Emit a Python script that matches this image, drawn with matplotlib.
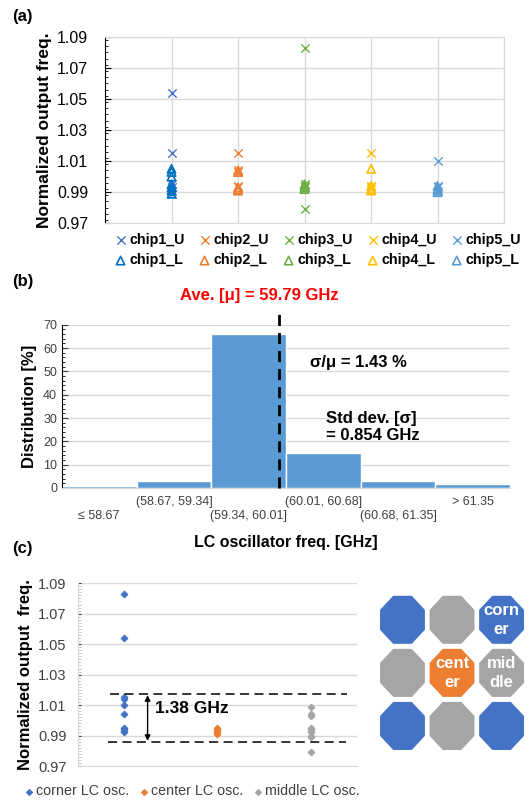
import numpy as np
import matplotlib
matplotlib.use("Agg")
import matplotlib.pyplot as plt
from matplotlib.patches import RegularPolygon
from matplotlib.ticker import MultipleLocator

plt.rcParams['font.family'] = ['Liberation Sans', 'DejaVu Sans']

# ---- panel (a) data ----
chips = ["chip1", "chip2", "chip3", "chip4", "chip5"]
chip_colors = ["#4472C4", "#ED7D31", "#70AD47", "#FFC000", "#5B9BD5"]
chip_colors_L = ["#0070C0", "#ED7D31", "#70AD47", "#FFC000", "#5B9BD5"]
upper_vals = [
    [1.054, 1.015, 0.995, 0.993, 0.991, 0.989],
    [1.015, 1.004, 1.003, 0.994, 0.993],
    [1.083, 0.995, 0.994, 0.993, 0.979],
    [1.015, 0.994, 0.993, 0.992],
    [1.010, 0.994, 0.993, 0.991],
]
lower_vals = [
    [1.005, 1.003, 1.000, 0.995, 0.993, 0.991, 0.989],
    [1.004, 1.003, 0.993, 0.992, 0.991],
    [0.995, 0.994, 0.993, 0.992],
    [1.005, 0.994, 0.992, 0.991],
    [0.994, 0.992, 0.991, 0.990],
]

# ---- panel (b) data ----
bins = ["\u2264 58.67", "(58.67, 59.34]", "(59.34, 60.01]",
        "(60.01, 60.68]", "(60.68, 61.35]", "> 61.35"]
dist = [0.8, 2.8, 66, 15, 2.8, 1.8]
mean_pos = 2.41  # bar-index position of the 59.79 GHz mean line

# ---- panel (c) data ----
groups = ["corner LC osc.", "center LC osc.", "middle LC osc."]
group_colors = ["#4472C4", "#ED7D31", "#A5A5A5"]
group_vals = [
    [1.083, 1.054, 1.015, 1.014, 1.010, 1.004, 0.995, 0.994, 0.993, 0.992],
    [0.995, 0.994, 0.993, 0.992, 0.991],
    [1.009, 1.004, 1.003, 0.995, 0.994, 0.993, 0.992, 0.990, 0.989, 0.979],
]
band_top, band_bot = 1.017, 0.986
grid_layout = [["#4472C4", "#A5A5A5", "#4472C4"],
               ["#A5A5A5", "#ED7D31", "#A5A5A5"],
               ["#4472C4", "#A5A5A5", "#4472C4"]]
grid_text = [["", "", "corn\ner"], ["", "cent\ner", "mid\ndle"], ["", "", ""]]

fig = plt.figure(figsize=(5.29, 8), dpi=100)

# ================= (a) =================
ax1 = fig.add_axes([0.1985, 0.721, 0.7545, 0.233])
handles = []
for i, c in enumerate(chips):
    hu = ax1.scatter([i + 1] * len(upper_vals[i]), upper_vals[i], marker="x",
                     color=chip_colors[i], s=36, linewidths=1.0, zorder=3)
    hl = ax1.scatter([i + 1] * len(lower_vals[i]), lower_vals[i], marker="^",
                     facecolors="none", edgecolors=chip_colors_L[i], s=36,
                     linewidths=1.2, zorder=3)
    handles += [(hu, c + "_U"), (hl, c + "_L")]
ax1.set_xlim(0, 6)
ax1.set_ylim(0.97, 1.09)
ax1.set_yticks(np.arange(0.97, 1.0901, 0.02))
ax1.yaxis.set_minor_locator(MultipleLocator(0.004))
ax1.set_xticks(range(1, 7))
ax1.tick_params(axis="x", length=0, labelbottom=False)
ax1.tick_params(axis="y", labelsize=11.5, length=4, direction="in", pad=12)
ax1.tick_params(axis="y", which="minor", length=2, direction="in")
ax1.grid(True, color="#D9D9D9", linewidth=1)
ax1.set_axisbelow(True)
for s in ["top", "right", "bottom"]:
    ax1.spines[s].set_color("#D9D9D9")
ax1.spines["left"].set_color("black")
ax1.set_ylabel("Normalized output freq.", fontsize=12.5, fontweight="bold", labelpad=4)
fig.legend([h for h, _ in handles], [l for _, l in handles], ncol=5,
           loc="upper left", bbox_to_anchor=(0.19, 0.725), frameon=False,
           prop={"weight": "bold", "size": 10.3}, handletextpad=0.1,
           columnspacing=0.9, handlelength=1.0, labelspacing=0.45)
fig.text(0.022, 0.98, "(a)", fontsize=12, fontweight="bold", va="center")

# ================= (b) =================
ax2 = fig.add_axes([0.117, 0.39, 0.847, 0.204])
x = np.arange(len(bins))
ax2.bar(x, dist, width=1.0, color="#5B9BD5", edgecolor="white", linewidth=1, zorder=2)
ax2.set_xlim(-0.5, 5.5)
ax2.set_ylim(0, 70)
ax2.yaxis.set_major_locator(MultipleLocator(10))
ax2.yaxis.set_minor_locator(MultipleLocator(2))
ax2.tick_params(axis="y", labelsize=9, length=4, direction="in", colors="#404040")
ax2.tick_params(axis="y", which="minor", length=2, direction="in")
ax2.set_xticks(x)
ax2.set_xticklabels(bins)
for i, t in enumerate(ax2.get_xticklabels()):
    t.set_y(-0.085 if i % 2 == 0 else 0.0)
ax2.tick_params(axis="x", length=0, labelsize=9, labelcolor="#404040", pad=6)
ax2.grid(True, axis="y", color="#D9D9D9", linewidth=1)
ax2.set_axisbelow(True)
for s in ["top", "right"]:
    ax2.spines[s].set_visible(False)
ax2.spines["bottom"].set_color("#D9D9D9")
ax2.spines["left"].set_color("black")
ax2.plot([mean_pos, mean_pos], [0, 76], color="black", linestyle=(0, (4, 2.5)),
         linewidth=2, clip_on=False, zorder=4)
ax2.set_ylabel("Distribution [%]", fontsize=12, fontweight="bold", labelpad=4)
ax2.set_xlabel("LC oscillator freq. [GHz]", fontsize=11.5, fontweight="bold", labelpad=9)
ax2.text(2.82, 54, "\u03c3/\u03bc = 1.43 %", fontsize=12, fontweight="bold", va="center")
ax2.text(3.04, 26, "Std dev. [\u03c3]\n= 0.854 GHz", fontsize=12, fontweight="bold",
         va="center", linespacing=1.15)
fig.text(0.49, 0.631, "Ave. [\u03bc] = 59.79 GHz", fontsize=12, fontweight="bold",
         color="#FF0000", ha="center", va="center")
fig.text(0.022, 0.648, "(b)", fontsize=12, fontweight="bold", va="center")

# ================= (c) =================
ax3 = fig.add_axes([0.147, 0.0425, 0.528, 0.2285])
for i, g in enumerate(groups):
    ax3.scatter([i + 0.5] * len(group_vals[i]), group_vals[i], marker="D",
                color=group_colors[i], s=10, label=g, zorder=3)
ax3.set_xlim(0, 3)
ax3.set_ylim(0.97, 1.09)
ax3.set_yticks(np.arange(0.97, 1.0901, 0.02))
ax3.yaxis.set_minor_locator(MultipleLocator(0.002))
ax3.tick_params(axis="x", length=0, labelbottom=False)
ax3.tick_params(axis="y", labelsize=10.5, length=2, direction="in", colors="#404040", pad=8)
ax3.tick_params(axis="y", which="minor", length=2, direction="in", color="#BFBFBF")
ax3.grid(True, axis="y", color="#D9D9D9", linewidth=1)
ax3.set_axisbelow(True)
for s in ["top", "right"]:
    ax3.spines[s].set_visible(False)
ax3.spines["left"].set_color("#D9D9D9")
ax3.spines["bottom"].set_color("#D9D9D9")
ax3.hlines([band_top, band_bot], [0.35, 0.33], [2.89, 2.88], colors="#262626",
           linestyles=(0, (5, 3)), linewidth=1.3, zorder=4)
ax3.annotate("", xy=(0.75, band_bot + 0.0005), xytext=(0.75, band_top - 0.0005),
             arrowprops=dict(arrowstyle="<|-|>", color="black", lw=1,
                             mutation_scale=8, shrinkA=0, shrinkB=0))
ax3.text(0.83, 1.0075, "1.38 GHz", fontsize=12.5, fontweight="bold", va="center")
ax3.set_ylabel("Normalized output  freq.", fontsize=12, fontweight="bold", labelpad=4)
ax3.legend(loc="upper left", bbox_to_anchor=(-0.24, -0.03), ncol=3, frameon=False,
           fontsize=10.3, handletextpad=0.1, columnspacing=0.6, markerscale=0.9,
           handlelength=0.8, labelcolor="#404040")
fig.text(0.022, 0.314, "(c)", fontsize=12, fontweight="bold", va="center")

# octagon layout
ax4 = fig.add_axes([0.714, 0.0594, 0.281, 0.199])
ax4.set_xlim(0, 3)
ax4.set_ylim(0, 3)
ax4.axis("off")
for r in range(3):
    for c in range(3):
        cx, cy = c + 0.5, 2.5 - r
        ax4.add_patch(RegularPolygon((cx, cy), 8, radius=0.49,
                                     orientation=np.pi / 8,
                                     facecolor=grid_layout[r][c], edgecolor="none"))
        if grid_text[r][c]:
            ax4.text(cx, cy, grid_text[r][c], ha="center", va="center",
                     fontsize=12, fontweight="bold", color="white", linespacing=1.3)

fig.savefig("out.png", dpi=100)
